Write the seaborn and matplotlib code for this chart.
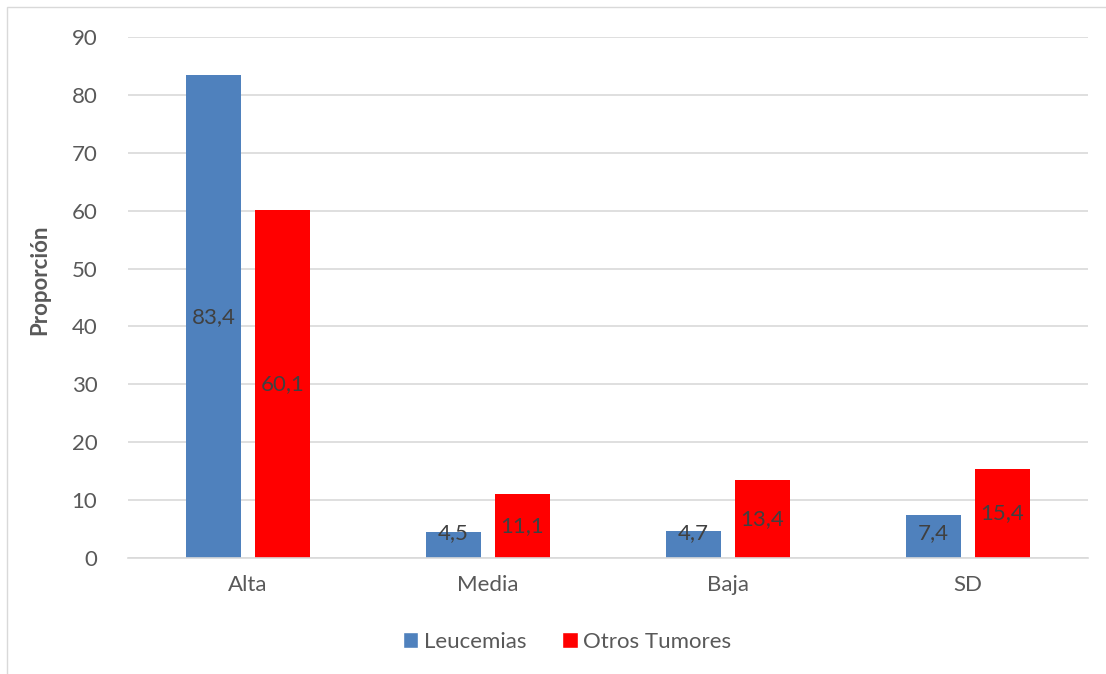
import pandas as pd
import matplotlib.pyplot as plt
from matplotlib.patches import Rectangle, Patch
import seaborn as sns

sns.set_theme(style="white")
plt.rcParams['font.family'] = ['Lato', 'DejaVu Sans']

categories = ["Alta", "Media", "Baja", "SD"]
series_names = ["Leucemias", "Otros Tumores"]
leucemias = [83.4, 4.5, 4.7, 7.4]
otros_tumores = [60.1, 11.1, 13.4, 15.4]
y_ticks = [0, 10, 20, 30, 40, 50, 60, 70, 80, 90]

colors = ["#4F81BD", "#FF0000"]
text_grey = "#595959"

df = pd.DataFrame({
    "categoria": categories * 2,
    "serie": [series_names[0]] * 4 + [series_names[1]] * 4,
    "valor": leucemias + otros_tumores,
})

fig = plt.figure(figsize=(11.06, 6.74), dpi=100)
ax = fig.add_axes([128 / 1106, 1 - 558 / 674, 960 / 1106, 521 / 674])

sns.barplot(data=df, x="categoria", y="valor", hue="serie", palette=colors,
            width=0.575, gap=0.217, order=categories, hue_order=series_names,
            legend=False, ax=ax, saturation=1, linewidth=0)

ax.set_xlim(-0.5, 3.5)
ax.set_ylim(0, 90)
ax.set_yticks(y_ticks)
ax.grid(axis="y", color="#D9D9D9", linewidth=1.2)
ax.set_axisbelow(True)
for s in ["left", "right", "top"]:
    ax.spines[s].set_visible(False)
ax.spines["bottom"].set_color("#D9D9D9")
ax.spines["bottom"].set_linewidth(1.2)
ax.tick_params(axis="both", length=0, labelsize=16, colors=text_grey, pad=12)
ax.tick_params(axis="y", pad=22)
ax.set_xlabel("")
ax.set_ylabel("Proporción", fontsize=16, fontweight="bold", color=text_grey)
ax.yaxis.set_label_coords(-0.081, 0.534)

# value labels
for container in ax.containers:
    for bar in container:
        h = bar.get_height()
        xc = bar.get_x() + bar.get_width() / 2
        ax.text(xc, max(h / 2, 4.3), f"{h:.1f}".replace(".", ","),
                ha="center", va="center", fontsize=16, color="#404040")

handles = [Patch(facecolor=c, label=n) for c, n in zip(colors, series_names)]
fig.legend(handles=handles, loc="center", bbox_to_anchor=(567 / 1106, 1 - 642 / 674),
           ncol=2, frameon=False, fontsize=16, handlelength=0.7, handleheight=0.7,
           handletextpad=0.25, columnspacing=1.6, labelcolor=text_grey)

fig.patches.append(Rectangle((7 / 1106, -0.1), 1.2, 1 - 7 / 674 + 0.1,
                             transform=fig.transFigure, fill=False,
                             edgecolor="#D9D9D9", linewidth=1))

fig.savefig("out.png", dpi=100)
